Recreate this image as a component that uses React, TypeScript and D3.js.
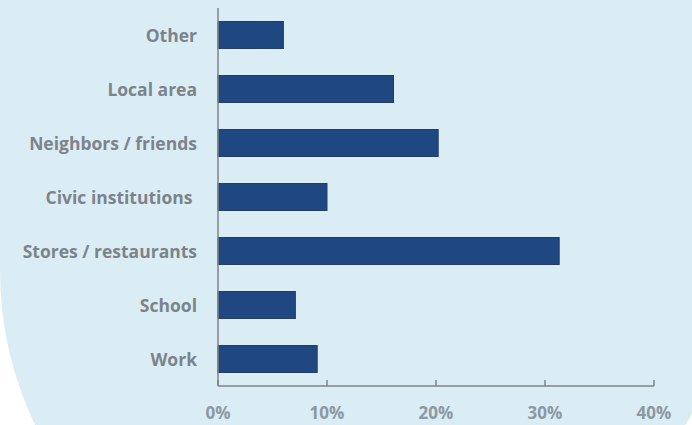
import React from "react";
import * as d3 from "d3";

const categories = ["Other", "Local area", "Neighbors / friends", "Civic institutions\u00a0", "Stores / restaurants", "School", "Work"];
const values = [6.0, 16.1, 20.2, 10.0, 31.3, 7.1, 9.1];
const xTicks = [0, 10, 20, 30, 40];

const W = 692;
const H = 425;
const FONT = "'Open Sans', Lato, sans-serif";

export default function App() {
  const x = d3.scaleLinear().domain([0, 40]).range([218, 654]);
  const y = d3.scaleBand<string>().domain(categories).range([8, 386]).paddingInner(0.5).paddingOuter(0.25);
  const bg = "M0,0 H692 V412 Q690,420 685,425 H35 A360,360 0 0 1 0,270 Z";
  return (
    <div style={{ position: "fixed", left: 0, top: 0 }}>
      <svg width={W} height={H} style={{ display: "block", background: "#ffffff" }}>
        <path d={bg} fill="#daedf4" />
        {categories.map((c, i) => (
          <g key={c}>
            <rect
              x={x(0)}
              y={y(c)!}
              width={x(values[i]) - x(0)}
              height={y.bandwidth()}
              fill="#1f4781"
              stroke="#243f66"
              strokeWidth={1}
            />
            <text
              x={197}
              y={y(c)! + y.bandwidth() / 2 + 1}
              dy="0.35em"
              textAnchor="end"
              fontFamily={FONT}
              fontWeight="bold"
              fontSize={17.5}
              fill="#7d838b"
              style={{ whiteSpace: "pre" }}
            >
              {c}
            </text>
          </g>
        ))}
        <line x1={x(0)} x2={x(0)} y1={8} y2={386} stroke="#7f8489" strokeWidth={1.5} />
        <line x1={x(0)} x2={x(40)} y1={386} y2={386} stroke="#7f8489" strokeWidth={1.5} />
        {xTicks.map((t) => (
          <g key={t}>
            <line x1={x(t)} x2={x(t)} y1={386} y2={380} stroke="#7f8489" strokeWidth={1.5} />
            <text
              x={x(t)}
              y={413}
              dy="0.35em"
              textAnchor="middle"
              fontFamily={FONT}
              fontWeight="bold"
              fontSize={17}
              fill="#8c98a2"
            >
              {t + "%"}
            </text>
          </g>
        ))}
      </svg>
    </div>
  );
}
